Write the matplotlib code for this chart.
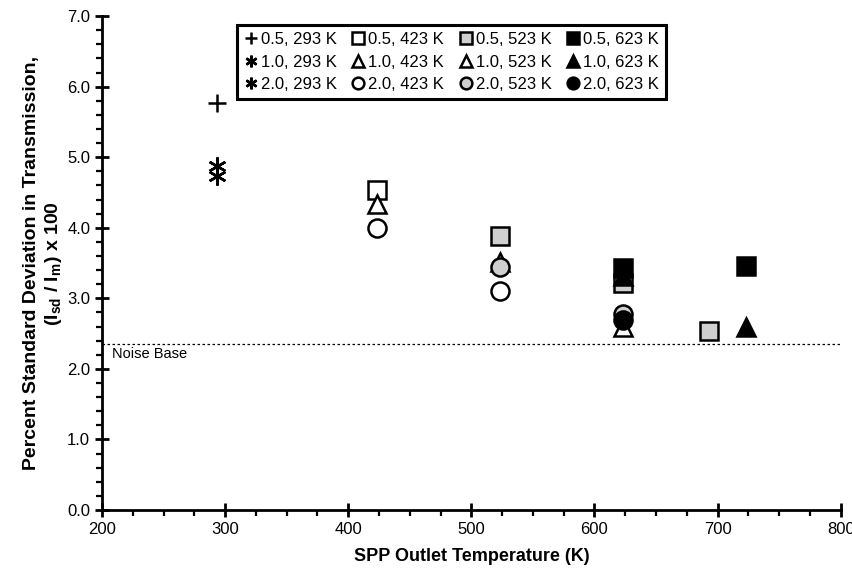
import matplotlib.pyplot as plt
from matplotlib.ticker import MultipleLocator, FormatStrFormatter

plt.rcParams['font.family'] = ['Liberation Sans', 'DejaVu Sans']
plt.rcParams['mathtext.fontset'] = 'custom'
plt.rcParams['mathtext.rm'] = 'Liberation Sans'
plt.rcParams['mathtext.bf'] = 'Liberation Sans:bold'

# series labels (pressure, particle temperature)
labels = ['0.5, 293 K', '1.0, 293 K', '2.0, 293 K',
          '0.5, 423 K', '1.0, 423 K', '2.0, 423 K',
          '0.5, 523 K', '1.0, 523 K', '2.0, 523 K',
          '0.5, 623 K', '1.0, 623 K', '2.0, 623 K']

# outlet temperature (K) and percent std deviation for each series
x_vals = [[293], [293], [293],
          [423], [423], [423, 523],
          [523, 623, 693], [523, 623], [523, 623],
          [623, 723], [623, 723], [623]]
y_vals = [[5.77], [4.88], [4.73],
          [4.53], [4.33], [3.99, 3.10],
          [3.89, 3.22, 2.54], [3.52, 2.60], [3.45, 2.78],
          [3.43, 3.46], [3.32, 2.60], [2.70]]

noise_base = 2.35

gray = '#cfcfcf'
markers = ['+', (6, 2, 0), (6, 2, 0),
           's', '^', 'o',
           's', '^', 'o',
           's', '^', 'o']
faces = ['k', 'k', 'k',
         'white', 'white', 'white',
         gray, 'white', gray,
         'k', 'k', 'k']

fig = plt.figure(figsize=(8.53, 5.75), dpi=100)
ax = fig.add_axes([0.1196, 0.113, 0.866, 0.859])

ax.axhline(noise_base, color='k', lw=0.9, ls=(0, (2, 2)))
ax.text(208, 2.15, 'Noise Base', fontsize=10.5)

for i in range(len(labels)):
    ax.plot(x_vals[i], y_vals[i], ls='none', marker=markers[i], ms=13,
            mfc=faces[i], mec='k', mew=1.8, label=labels[i])

ax.set_xlim(200, 800)
ax.set_ylim(0, 7)
ax.xaxis.set_major_locator(MultipleLocator(100))
ax.xaxis.set_minor_locator(MultipleLocator(25))
ax.yaxis.set_major_locator(MultipleLocator(1))
ax.yaxis.set_minor_locator(MultipleLocator(0.2))
ax.yaxis.set_major_formatter(FormatStrFormatter('%.1f'))

for s in ['top', 'right']:
    ax.spines[s].set_visible(False)
for s in ['left', 'bottom']:
    ax.spines[s].set_linewidth(2)
ax.tick_params(which='major', direction='inout', length=10, width=2, labelsize=12)
ax.tick_params(which='minor', direction='out', length=4, width=1.6)

ax.set_xlabel('SPP Outlet Temperature (K)', fontsize=13, fontweight='bold', labelpad=8)
ax.set_ylabel('Percent Standard Deviation in Transmission,\n'
              r'(I$_{\mathbf{sd}}$ / I$_{\mathbf{m}}$) x 100',
              fontsize=14, fontweight='bold', labelpad=2)

leg = ax.legend(ncol=4, loc='upper left', bbox_to_anchor=(0.172, 0.998),
                fontsize=12, markerscale=0.65, handlelength=0.8, handletextpad=0.2,
                columnspacing=0.9, labelspacing=0.45, borderpad=0.4,
                fancybox=False, edgecolor='k', framealpha=1)
leg.get_frame().set_linewidth(2.2)

fig.savefig('out.png', dpi=100)
